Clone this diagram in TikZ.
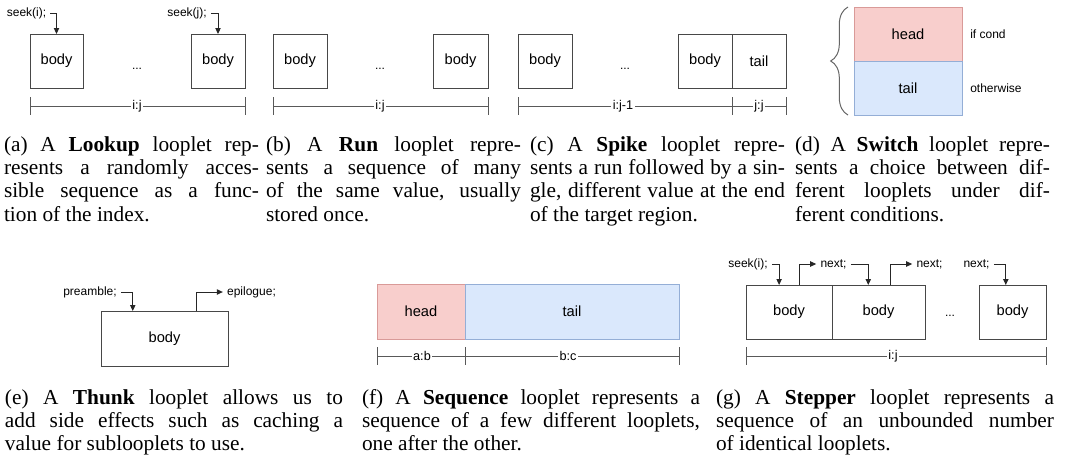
\documentclass[tikz,border=0pt]{standalone}
\usepackage{fontspec}
\newfontfamily\dfont{Liberation Sans}
\newfontfamily\cfont{Liberation Serif}
\usetikzlibrary{arrows.meta,calc,decorations.pathreplacing}
\definecolor{headfill}{HTML}{F8CECC}
\definecolor{headdraw}{HTML}{D99A98}
\definecolor{tailfill}{HTML}{DAE8FC}
\definecolor{taildraw}{HTML}{94AED6}
\newlength\capw
\newcommand\jl[1]{\makebox[\capw][s]{#1}}
\newcommand\capfont{\cfont\fontsize{16}{17.5}\selectfont}
% style, name, x1, y1, x2, y2, text
\newcommand\bx[7]{\node[#1,minimum width={(#5-#3)*0.75pt},minimum height={(#6-#4)*0.75pt}] (#2) at ({(#3+#5)/2},{(#4+#6)/2}) {#7};}
% name, x1, x2, y, label, label x
\newcommand\dimln[6]{%
  \coordinate (#1a) at (#2,#4); \coordinate (#1b) at (#3,#4);
  \draw[dimline] ($(#1a)+(0,-9)$) -- ($(#1a)+(0,9)$);
  \draw[dimline] ($(#1b)+(0,-9)$) -- ($(#1b)+(0,9)$);
  \draw[dimline] (#1a) -- (#1b);
  \node[dimlbl] (#1l) at (#6,#4) {#5};}
\begin{document}
\begin{tikzpicture}[x=0.75pt,y=-0.75pt,
  box/.style={draw=black!72,line width=0.75pt,inner sep=0pt,outer sep=0pt,font=\dfont\fontsize{11}{13}\selectfont},
  headbox/.style={box,fill=headfill,draw=headdraw},
  tailbox/.style={box,fill=tailfill,draw=taildraw},
  lbl/.style={inner xsep=3pt,inner ysep=1.5pt,font=\dfont\fontsize{9}{11}\selectfont},
  dimlbl/.style={lbl,fill=white,inner xsep=1pt,inner ysep=1pt,font=\dfont\fontsize{9.5}{11}\selectfont},
  dotsn/.style={inner sep=0pt,font=\dfont\fontsize{9}{11}\selectfont},
  dimline/.style={draw=black!65,line width=0.75pt},
  arr/.style={draw=black!85,line width=0.75pt,-{Triangle[length=4.5pt,width=4pt]}},
  capt/.style={anchor=base west,inner sep=0pt,outer sep=0pt}]
\useasboundingbox (0,0) rectangle (1068,465);

% (a) Lookup
\node[lbl] (as1) at (26.5,13) {seek(i);};
\bx{box}{ab1}{30}{34}{83}{88}{body}
\node[dotsn,anchor=base] (adots) at (137,69) {...};
\node[lbl] (as2) at (187,13) {seek(j);};
\bx{box}{ab2}{191}{34}{245}{88}{body}
\draw[arr] (as1.east) -| (ab1.north);
\draw[arr] (as2.east) -| (ab2.north);
\dimln{ad}{30}{245}{106}{i:j}{137}

% (b) Run
\bx{box}{bb1}{273}{34}{327}{88}{body}
\node[dotsn,anchor=base] (bdots) at (380,69) {...};
\bx{box}{bb2}{433}{34}{488}{88}{body}
\dimln{bd}{273}{488}{106}{i:j}{380}

% (c) Spike
\bx{box}{cb1}{518}{34}{572}{88}{body}
\node[dotsn,anchor=base] (cdots) at (625,69) {...};
\bx{box}{cb2}{678}{34}{732}{88}{body}
\bx{box}{cb3}{732}{34}{786}{88}{tail}
\dimln{cd}{518}{732}{106}{i:j-1}{623}
\dimln{ce}{732}{786}{106}{j:j}{759}

% (d) Switch
\bx{headbox}{dh}{854}{7}{962}{61}{head}
\bx{tailbox}{dt}{854}{61}{962}{115}{tail}
\draw[black!60,line width=0.75pt,decorate,decoration={brace,amplitude=13pt}] ($(dt.south west)+(-6,0)$) coordinate (dbr1) -- ($(dh.north west)+(-6,0)$) coordinate (dbr2);
\node[lbl,anchor=west] (dif) at (966,34) {if cond};
\node[lbl,anchor=west] (dot) at (966,88) {otherwise};

% (e) Thunk
\node[lbl] (epre) at (90,292) {preamble;};
\bx{box}{eb}{101}{311}{228}{366}{body}
\node[lbl] (eepi) at (251.5,292) {epilogue;};
\draw[arr] (epre.east) -| ($(eb.north west)!0.25!(eb.north east)$);
\draw[arr] ($(eb.north west)!0.75!(eb.north east)$) |- (eepi.west);

% (f) Sequence
\bx{headbox}{fh}{377}{284}{465}{339}{head}
\bx{tailbox}{ft}{465}{284}{679}{339}{tail}
\dimln{fd}{377}{465}{356}{a:b}{422}
\dimln{fe}{465}{679}{356}{b:c}{568}

% (g) Stepper
\node[lbl] (gs) at (748,264) {seek(i);};
\bx{box}{gb1}{746}{285}{832}{339}{body}
\bx{box}{gb2}{832}{285}{925}{339}{body}
\node[dotsn,anchor=base] (gdots) at (950,316) {...};
\bx{box}{gb3}{979}{285}{1046}{339}{body}
\node[lbl] (gn1) at (833.5,264) {next;};
\node[lbl] (gn2) at (929.5,264) {next;};
\node[lbl] (gn3) at (976.5,264) {next;};
\draw[arr] (gs.east) -| ($(gb1.north west)!0.385!(gb1.north east)$);
\draw[arr] ($(gb1.north west)!0.62!(gb1.north east)$) |- (gn1.west);
\draw[arr] (gn1.east) -| ($(gb2.north west)!0.39!(gb2.north east)$);
\draw[arr] ($(gb2.north west)!0.63!(gb2.north east)$) |- (gn2.west);
\draw[arr] (gn3.east) -| ($(gb3.north west)!0.4!(gb3.north east)$);
\dimln{gd}{746}{1046}{356}{i:j}{893}

% captions, row 1
\node[capt] (capa) at (4,151) {\parbox[t]{191.25pt}{\capfont\setlength\capw{191.25pt}%
\jl{(a) A \textbf{Lookup} looplet rep-}\\\jl{resents a randomly acces-}\\\jl{sible sequence as a func-}\\tion of the index.}};
\node[capt] (capb) at (266,151) {\parbox[t]{191.25pt}{\capfont\setlength\capw{191.25pt}%
\jl{(b) A \textbf{Run} looplet repre-}\\\jl{sents a sequence of many}\\\jl{of the same value, usually}\\stored once.}};
\node[capt] (capc) at (530,151) {\parbox[t]{191.25pt}{\capfont\setlength\capw{191.25pt}%
\jl{(c) A \textbf{Spike} looplet repre-}\\\jl{sents a run followed by a sin-}\\\jl{gle, different value at the end}\\of the target region.}};
\node[capt] (capd) at (795,151) {\parbox[t]{191.25pt}{\capfont\setlength\capw{191.25pt}%
\jl{(d) A \textbf{Switch} looplet repre-}\\\jl{sents a choice between dif-}\\\jl{ferent looplets under dif-}\\ferent conditions.}};

% captions, row 2
\node[capt] (cape) at (5,404) {\parbox[t]{253.5pt}{\capfont\setlength\capw{253.5pt}%
\jl{(e) A \textbf{Thunk} looplet allows us to}\\\jl{add side effects such as caching a}\\value for sublooplets to use.}};
\node[capt] (capf) at (362,404) {\parbox[t]{253.5pt}{\capfont\setlength\capw{253.5pt}%
\jl{(f) A \textbf{Sequence} looplet represents a}\\\jl{sequence of a few different looplets,}\\one after the other.}};
\node[capt] (capg) at (716,404) {\parbox[t]{253.5pt}{\capfont\setlength\capw{253.5pt}%
\jl{(g) A \textbf{Stepper} looplet represents a}\\\jl{sequence of an unbounded number}\\of identical looplets.}};
\end{tikzpicture}
\end{document}
